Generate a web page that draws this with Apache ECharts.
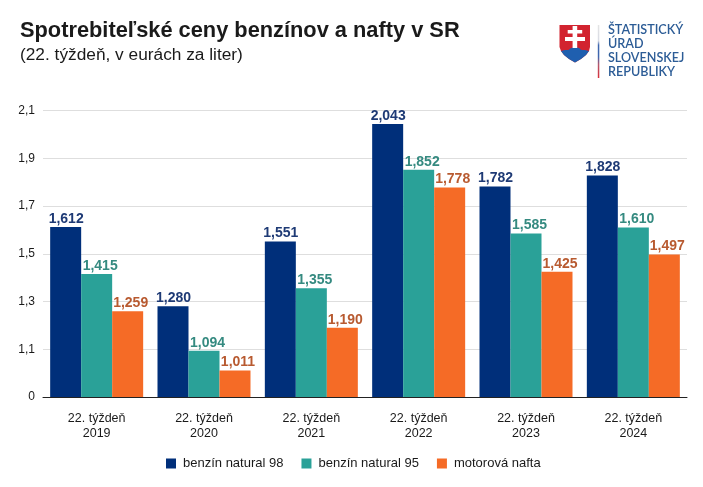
<!DOCTYPE html>
<html><head><meta charset="utf-8">
<style>html,body{margin:0;padding:0;background:#fff}#c{width:703px;height:487px}</style>
<script src="https://cdn.jsdelivr.net/npm/echarts@6/dist/echarts.min.js"></script>
</head><body><div id="c"></div>
<script>
const categories = ['22. týždeň\n2019','22. týždeň\n2020','22. týždeň\n2021','22. týždeň\n2022','22. týždeň\n2023','22. týždeň\n2024'];
const natural98 = [1.612,1.280,1.551,2.043,1.782,1.828];
const natural95 = [1.415,1.094,1.355,1.852,1.585,1.610];
const nafta = [1.259,1.011,1.190,1.778,1.425,1.497];
const yTicks = [0.9,1.1,1.3,1.5,1.7,1.9,2.1];
const names = ['benzín natural 98','benzín natural 95','motorová nafta'];
const colors = ['#002F7A','#2AA198','#F56B26'];
const labelColors = ['#1E3A75','#358A80','#B85A30'];
const labelShift = [0.5,3.5,3];
const font = 'Liberation Sans';
const chart = echarts.init(document.getElementById('c'),null,{renderer:'canvas'});
function ser(i,data){return {name:names[i],type:'bar',data,barWidth:31,barGap:'0%',itemStyle:{color:colors[i]},
 label:{show:true,position:'top',distance:1,offset:[labelShift[i],0],color:labelColors[i],fontFamily:font,fontWeight:'bold',fontSize:14,
 formatter:p=>p.value.toFixed(3).replace('.',',')}};}
chart.setOption({
 animation:false,
 textStyle:{fontFamily:font},
 title:{text:'Spotrebiteľské ceny benzínov a nafty v SR',subtext:'(22. týždeň, v eurách za liter)',left:20,top:20,padding:0,itemGap:5,
  textStyle:{fontFamily:font,fontSize:21.8,fontWeight:'bold',color:'#1a1a1a'},
  subtextStyle:{fontFamily:font,fontSize:17.3,color:'#1a1a1a'}},
 grid:{left:43,right:16,top:110.5,bottom:90},
 legend:{top:457,left:166,padding:0,itemWidth:10,itemHeight:10,itemGap:18,icon:'rect',
  textStyle:{fontFamily:font,fontSize:13,color:'#1a1a1a',padding:[0,0,0,2]},data:names},
 xAxis:{type:'category',data:categories,axisLine:{lineStyle:{color:'#222',width:1}},
  axisTick:{alignWithLabel:true,length:6,lineStyle:{color:'#222'}},
  axisLabel:{fontFamily:font,fontSize:12.5,color:'#1a1a1a',lineHeight:15,margin:14}},
 yAxis:{type:'value',min:0.9,max:2.1,
  axisLine:{show:false},
  axisTick:{show:false,customValues:yTicks},
  splitLine:{lineStyle:{color:'#dedede',width:1}},
  axisLabel:{customValues:yTicks,fontFamily:font,fontSize:12,color:'#1a1a1a',margin:8,
   formatter:v=>Math.abs(v-0.9)<1e-6?'0':v.toFixed(1).replace('.',',')}},
 series:[ser(0,natural98),ser(1,natural95),ser(2,nafta)],
 graphic:[
  {type:'polygon',shape:{points:[[559.5,25],[590,25],[590,47],[589,51],[586,55],[581,59],[575,62.5],[569,59],[564,55],[561,51],[559.5,47]]},style:{fill:'#D2232F'}},
  {type:'polygon',shape:{points:[[561,51],[565,50],[568.5,50],[571,48],[575,47],[579,48],[581.5,50],[585,50],[589,51],[586,55],[581,59],[575,62.5],[569,59],[564,55]]},style:{fill:'#1F5FAF'}},
  {type:'rect',shape:{x:572.6,y:26,width:4.6,height:22},style:{fill:'#fff'}},
  {type:'rect',shape:{x:567.7,y:30,width:14.5,height:3.5},style:{fill:'#fff'}},
  {type:'rect',shape:{x:565,y:37,width:20,height:4},style:{fill:'#fff'}},
  {type:'rect',shape:{x:597.8,y:25,width:1.5,height:53},style:{fill:{type:'linear',x:0,y:0,x2:0,y2:1,colorStops:[{offset:0,color:'#e4e4e4'},{offset:0.3,color:'#d8dbe4'},{offset:0.38,color:'#3E66AE'},{offset:0.6,color:'#3E66AE'},{offset:0.75,color:'#B5566A'},{offset:1,color:'#D9303A'}]}}},
  {type:'text',x:608,y:22.5,style:{text:'ŠTATISTICKÝ\nÚRAD\nSLOVENSKEJ\nREPUBLIKY',fill:'#2C5C96',font:'600 12.6px Lato',lineHeight:14}}
 ]
});
</script></body></html>
